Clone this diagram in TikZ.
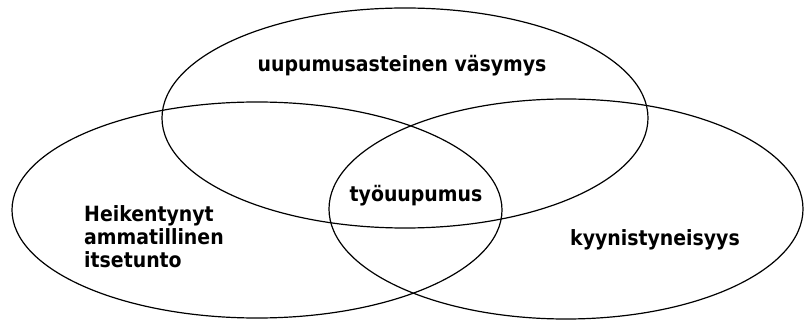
\documentclass[tikz,border=0pt]{standalone}
\usepackage{fontspec}
\setmainfont{DejaVu Sans Condensed}
\begin{document}
\begin{tikzpicture}[x=1pt,y=-1pt,
  ring/.style={draw=black,line width=1.2pt},
  lbl/.style={font=\bfseries\fontsize{21}{23}\selectfont,inner sep=0pt}]
\useasboundingbox (0,0) rectangle (805,320);
\draw[ring] (405,118) ellipse [x radius=243, y radius=110];
\draw[ring] (257,210) ellipse [x radius=245, y radius=108];
\draw[ring] (566,209) ellipse [x radius=237, y radius=110];
\node[lbl,anchor=base] (top) at (402,72) {uupumusasteinen väsymys};
\node[lbl,anchor=base] (mid) at (416,202) {työuupumus};
\node[lbl,align=left,anchor=north west] (left) at (84,205) {Heikentynyt\\ammatillinen\\itsetunto};
\node[lbl,anchor=base] (right) at (655,245) {kyynistyneisyys};
\end{tikzpicture}
\end{document}
